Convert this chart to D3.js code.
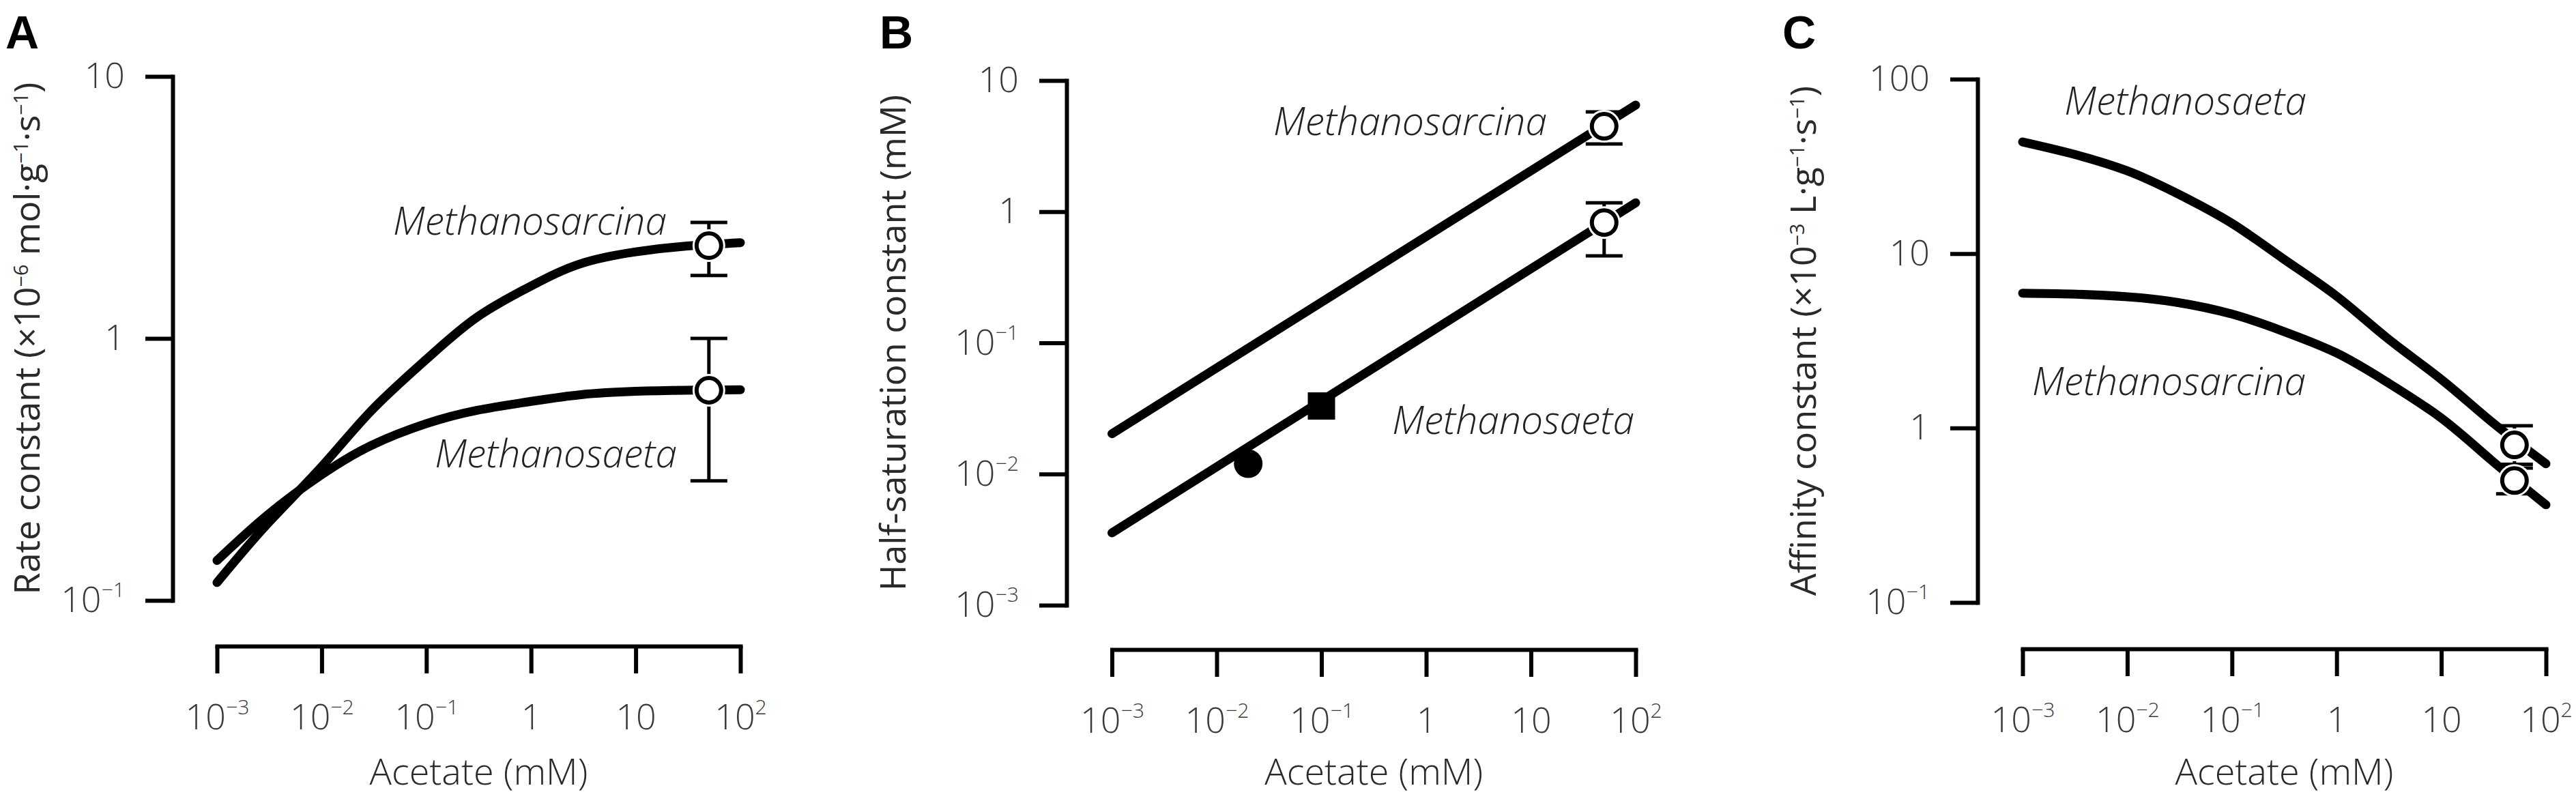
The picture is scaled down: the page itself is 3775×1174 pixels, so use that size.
<!DOCTYPE html>
<html>
<head>
<meta charset="utf-8">
<script src="https://cdn.jsdelivr.net/npm/d3@7"></script>
<style>
  html, body { margin: 0; padding: 0; background: #ffffff; }
  svg { display: block; }
</style>
</head>
<body>
<svg id="chart" width="3775" height="1174"></svg>
<script>
// ---------------- DATA ----------------
const acetate = [0.001, 0.003, 0.01, 0.03, 0.1, 0.3, 1, 3, 10, 30, 100];

// Panel A: rate constant (x10^-6 mol g^-1 s^-1)
const rateSarcina = [0.117, 0.195, 0.324, 0.531, 0.832, 1.20, 1.585, 1.93, 2.14, 2.25, 2.32];
const rateSaeta   = [0.142, 0.211, 0.302, 0.391, 0.473, 0.531, 0.575, 0.610, 0.628, 0.634, 0.637];
const rateObs = [
  { sp: "Methanosarcina", x: 50, y: 2.26, lo: 1.74, hi: 2.77 },
  { sp: "Methanosaeta",   x: 50, y: 0.634, lo: 0.286, hi: 1.0 }
];

// Panel B: half-saturation constant (mM), straight lines on log-log
const ksAcetate = [0.001, 100];
const ksSarcina = [0.0203, 6.5];
const ksSaeta   = [0.00356, 1.17];
const ksObs = [
  { sp: "Methanosarcina", x: 50, y: 4.48, lo: 3.28, hi: 5.76 },
  { sp: "Methanosaeta",   x: 50, y: 0.826, lo: 0.46, hi: 1.17 }
];
const ksFilledCircle = [{ x: 0.02, y: 0.012 }];
const ksFilledSquare = [{ x: 0.1, y: 0.033 }];

// Panel C: affinity constant (x10^-3 L g^-1 s^-1)
const affSaeta   = [43.65, 37.3, 29.8, 22.1, 14.9, 9.46, 5.70, 3.30, 1.90, 1.09, 0.624];
const affSarcina = [5.93, 5.86, 5.65, 5.25, 4.50, 3.61, 2.69, 1.84, 1.14, 0.655, 0.363];
const affObs = [
  { sp: "Methanosaeta",   x: 50, y: 0.80, lo: 0.62, hi: 1.03 },
  { sp: "Methanosarcina", x: 50, y: 0.50, lo: 0.42, hi: 0.59 }
];

// Ticks
const xTickVals   = [0.001, 0.01, 0.1, 1, 10, 100];
const xTickLabels = ["10^−3", "10^−2", "10^−1", "1", "10", "10^2"];
const yTickValsA   = [0.1, 1, 10];
const yTickLabelsA = ["10^−1", "1", "10"];
const yTickValsB   = [0.001, 0.01, 0.1, 1, 10];
const yTickLabelsB = ["10^−3", "10^−2", "10^−1", "1", "10"];
const yTickValsC   = [0.1, 1, 10, 100];
const yTickLabelsC = ["10^−1", "1", "10", "100"];

const xTitle = "Acetate (mM)";
const yTitleA = [["Rate constant (×10"], ["−6", 1], [" mol·g"], ["−1", 1], ["·s"], ["−1", 1], [")"]];
const yTitleB = [["Half-saturation constant (mM)"]];
const yTitleC = [["Affinity constant (×10"], ["−3", 1], [" L·g"], ["−1", 1], ["·s"], ["−1", 1], [")"]];

// ---------------- LAYOUT / STYLE ----------------
const FONT = "'Open Sans', 'Liberation Sans', sans-serif";
const TICK_FS = 52, TITLE_FS = 52, XTITLE_FS = 54, SPECIES_FS = 57;
const AXIS_W = 6, CURVE_W = 13, TICK_LEN = 40;

const panels = [
  { letter: "A", letterX: 8, x0: 318, x1: 1085, axisX: 253, yTop: 112, yBot: 880, axisY: 947,
    yDomain: [0.1, 10], yTicks: yTickValsA, yLabels: yTickLabelsA, yTitle: yTitleA, yTitleX: 52,
    lines: [{ xs: acetate, ys: rateSarcina }, { xs: acetate, ys: rateSaeta }],
    obs: rateObs, labels: [
      { text: "Methanosarcina", x: 977, y: 344, anchor: "end" },
      { text: "Methanosaeta", x: 992, y: 685, anchor: "end" }] },
  { letter: "B", letterX: 1289, x0: 1629.5, x1: 2397, axisX: 1563, yTop: 118, yBot: 887, axisY: 952,
    yDomain: [0.001, 10], yTicks: yTickValsB, yLabels: yTickLabelsB, yTitle: yTitleB, yTitleX: 1321,
    lines: [{ xs: ksAcetate, ys: ksSarcina }, { xs: ksAcetate, ys: ksSaeta }],
    obs: ksObs, labels: [
      { text: "Methanosarcina", x: 2267, y: 198, anchor: "end" },
      { text: "Methanosaeta", x: 2395, y: 636, anchor: "end" }] },
  { letter: "C", letterX: 2612, x0: 2964, x1: 3731, axisX: 2898, yTop: 116, yBot: 883, axisY: 951,
    yDomain: [0.1, 100], yTicks: yTickValsC, yLabels: yTickLabelsC, yTitle: yTitleC, yTitleX: 2655,
    lines: [{ xs: acetate, ys: affSaeta }, { xs: acetate, ys: affSarcina }],
    obs: affObs, labels: [
      { text: "Methanosaeta", x: 3380, y: 168, anchor: "end" },
      { text: "Methanosarcina", x: 3379, y: 579, anchor: "end" }] }
];

// ---------------- HELPERS ----------------
function richText(textSel, segs, fs, supScale, supRaise) {
  textSel.text(null);
  let raised = false;
  segs.forEach(s => {
    const sup = !!s[1];
    const t = textSel.append("tspan").text(s[0]);
    if (sup) {
      t.attr("font-size", fs * supScale).attr("dy", raised ? 0 : -fs * supRaise);
      raised = true;
    } else {
      t.attr("font-size", fs);
      if (raised) { t.attr("dy", fs * supRaise); raised = false; }
    }
  });
}
function parseTick(lbl) {
  const p = lbl.split("^");
  return p.length === 1 ? [[p[0]]] : [[p[0]], [p[1], 1]];
}

// ---------------- DRAW ----------------
const svg = d3.select("#chart");

panels.forEach(P => {
  const x = d3.scaleLog().domain([0.001, 100]).range([P.x0, P.x1]);
  const y = d3.scaleLog().domain(P.yDomain).range([P.yBot, P.yTop]);
  const g = svg.append("g");

  // panel letter
  g.append("text").attr("x", P.letterX).attr("y", 71)
    .attr("font-family", "'Liberation Sans', Arial, sans-serif").attr("font-weight", "bold")
    .attr("font-size", 68).attr("fill", "#000").text(P.letter);

  // y axis
  const ya = g.append("g").attr("transform", `translate(${P.axisX},0)`)
    .call(d3.axisLeft(y).tickValues(P.yTicks).tickSizeInner(TICK_LEN).tickSizeOuter(0).tickPadding(30));
  // x axis
  const xa = g.append("g").attr("transform", `translate(0,${P.axisY})`)
    .call(d3.axisBottom(x).tickValues(xTickVals).tickSizeInner(TICK_LEN).tickSizeOuter(0).tickPadding(45));

  [ya, xa].forEach(a => {
    a.attr("font-family", FONT).attr("font-size", TICK_FS).attr("font-weight", 300);
    a.select(".domain").attr("stroke", "#000").attr("stroke-width", AXIS_W).attr("stroke-linecap", "square");
    a.selectAll(".tick line").attr("stroke", "#000").attr("stroke-width", AXIS_W);
    a.selectAll(".tick text").attr("fill", "#3a3a3a");
  });
  ya.selectAll(".tick text").each(function (d, i) { richText(d3.select(this), parseTick(P.yLabels[i]), TICK_FS, 0.58, 0.42); });
  xa.selectAll(".tick text").each(function (d, i) { richText(d3.select(this), parseTick(xTickLabels[i]), TICK_FS, 0.58, 0.42); });

  // axis titles
  g.append("text").attr("x", (P.x0 + P.x1) / 2).attr("y", 1150)
    .attr("text-anchor", "middle").attr("font-family", FONT).attr("font-weight", 300)
    .attr("font-size", XTITLE_FS).attr("fill", "#2a2a2a").text(xTitle);
  const yt = g.append("text")
    .attr("transform", `translate(${P.yTitleX},${(P.yTop + P.yBot) / 2}) rotate(-90)`)
    .attr("text-anchor", "middle").attr("dy", "0.36em")
    .attr("font-family", FONT).attr("fill", "#2a2a2a");
  richText(yt, P.yTitle, TITLE_FS, 0.55, 0.32);

  // curves
  const line = d3.line().x(d => x(d[0])).y(d => y(d[1])).curve(d3.curveNatural);
  P.lines.forEach(L => {
    g.append("path").datum(L.xs.map((v, i) => [v, L.ys[i]]))
      .attr("d", line).attr("fill", "none").attr("stroke", "#000")
      .attr("stroke-width", CURVE_W).attr("stroke-linecap", "round").attr("stroke-linejoin", "round");
  });

  // filled markers (panel B)
  if (P.letter === "B") {
    g.selectAll(".fc").data(ksFilledCircle).join("circle")
      .attr("cx", d => x(d.x)).attr("cy", d => y(d.y)).attr("r", 21).attr("fill", "#000");
    g.selectAll(".fs").data(ksFilledSquare).join("rect")
      .attr("x", d => x(d.x) - 20).attr("y", d => y(d.y) - 20).attr("width", 40).attr("height", 40).attr("fill", "#000");
  }

  // error bars
  const eb = g.selectAll(".eb").data(P.obs).join("g");
  eb.append("line").attr("x1", d => x(d.x)).attr("x2", d => x(d.x))
    .attr("y1", d => y(d.lo)).attr("y2", d => y(d.hi)).attr("stroke", "#000").attr("stroke-width", 5);
  ["lo", "hi"].forEach(k => {
    eb.append("line").attr("x1", d => x(d.x) - 27).attr("x2", d => x(d.x) + 27)
      .attr("y1", d => y(d[k])).attr("y2", d => y(d[k])).attr("stroke", "#000").attr("stroke-width", 5);
  });
  // halos then open circles
  g.selectAll(".halo").data(P.obs).join("circle")
    .attr("cx", d => x(d.x)).attr("cy", d => y(d.y)).attr("r", 24).attr("fill", "#fff");
  g.selectAll(".oc").data(P.obs).join("circle")
    .attr("cx", d => x(d.x)).attr("cy", d => y(d.y)).attr("r", 18)
    .attr("fill", "#fff").attr("stroke", "#000").attr("stroke-width", 6);

  // species labels
  P.labels.forEach(l => {
    g.append("text").attr("x", l.x).attr("y", l.y).attr("text-anchor", l.anchor)
      .attr("font-family", FONT).attr("font-style", "italic").attr("font-weight", 300)
      .attr("font-size", SPECIES_FS).attr("fill", "#222").text(l.text);
  });
});
</script>
</body>
</html>
